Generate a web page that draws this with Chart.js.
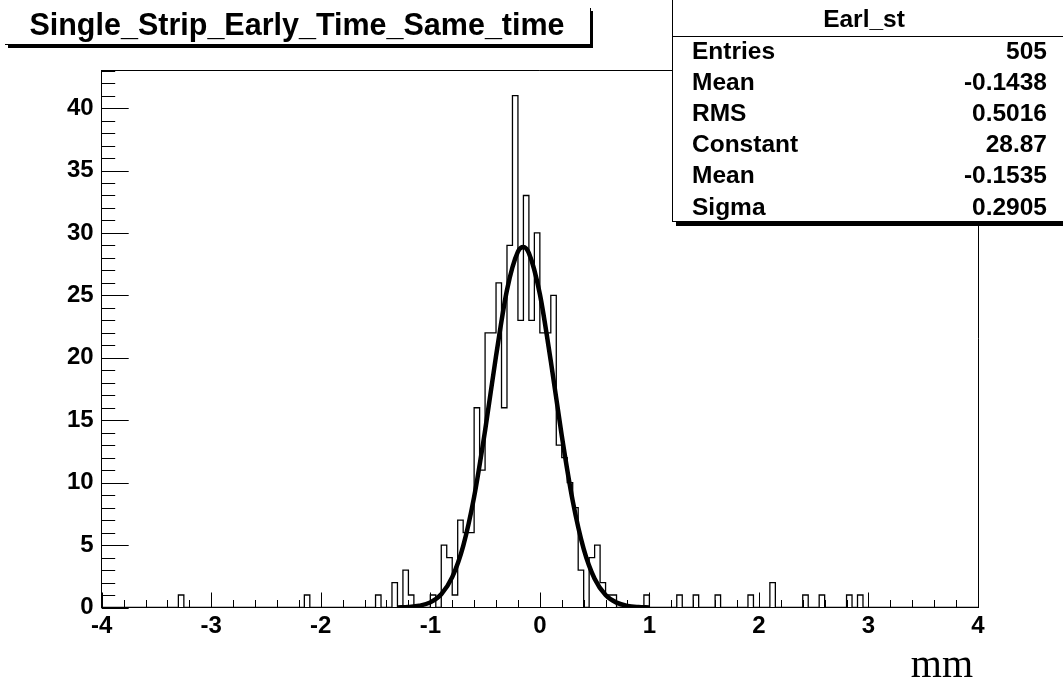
<!DOCTYPE html>
<html><head><meta charset="utf-8">
<script src="https://cdn.jsdelivr.net/npm/chart.js@4"></script>
<style>html,body{margin:0;padding:0;background:#fff}</style>
</head><body>
<canvas id="c" width="1063" height="680"></canvas>
<script>
const title = 'Single_Strip_Early_Time_Same_time';
const statsName = 'Earl_st';
const statsLabels = ['Entries', 'Mean', 'RMS', 'Constant', 'Mean', 'Sigma'];
const statsValues = ['505', '-0.1438', '0.5016', '28.87', '-0.1535', '0.2905'];
const axisTitle = 'mm';

const xTicks = [-4, -3, -2, -1, 0, 1, 2, 3, 4];
const yTicks = [0, 5, 10, 15, 20, 25, 30, 35, 40];

// 160 bins of 0.05 between -4 and 4; only the non-empty ones are listed (lower edge, count)
const binLow = [-3.30, -2.15, -1.50, -1.35, -1.25, -1.20, -1.00, -0.90, -0.85, -0.80,
  -0.75, -0.70, -0.65, -0.60, -0.55, -0.50, -0.45, -0.40, -0.35, -0.30,
  -0.25, -0.20, -0.15, -0.10, -0.05, 0.00, 0.05, 0.10, 0.15, 0.20,
  0.25, 0.30, 0.35, 0.45, 0.50, 0.55, 0.60, 0.65, 0.95, 1.25,
  1.40, 1.60, 1.90, 2.10, 2.40, 2.55, 2.80, 2.90];
const binCount = [1, 1, 1, 2, 3, 1, 1, 5, 4, 1,
  7, 6, 6, 16, 11, 22, 22, 26, 16, 29,
  41, 23, 33, 23, 30, 22, 22, 25, 13, 12,
  10, 8, 3, 4, 5, 2, 1, 1, 1, 1,
  1, 1, 1, 2, 1, 1, 1, 1];

// gaussian fit curve
const fitX = [-1.3, -1.2, -1.1, -1.0, -0.9, -0.8, -0.7, -0.6, -0.5, -0.4, -0.3, -0.2, -0.15,
  -0.1, 0, 0.1, 0.2, 0.3, 0.4, 0.5, 0.6, 0.7, 0.8, 0.9, 1.0];
const fitY = [0.01, 0.04, 0.14, 0.41, 1.06, 2.43, 4.92, 8.86, 14.17, 20.14, 25.43, 28.50, 28.87,
  28.38, 25.11, 19.73, 13.77, 8.54, 4.70, 2.30, 1.00, 0.39, 0.13, 0.04, 0.01];

const nBins = 160, xLo = -4, xHi = 4, bw = 0.05;
const counts = new Array(nBins).fill(0);
binLow.forEach((b, i) => { counts[Math.round((b - xLo) / bw)] = binCount[i]; });
const histPts = counts.map((c, i) => ({ x: xLo + i * bw, y: c }));
histPts.push({ x: xHi, y: counts[nBins - 1] });

const FONT = 'Liberation Sans, Arial, sans-serif';
const tickFont = { family: FONT, size: 24, weight: 'bold' };

const rootDeco = {
  id: 'rootDeco',
  afterDatasetsDraw(chart) {
    const ctx = chart.ctx, a = chart.chartArea;
    const sx = chart.scales.x, sy = chart.scales.y;
    ctx.save();
    ctx.strokeStyle = '#000';
    ctx.lineWidth = 1;
    // frame
    ctx.beginPath();
    ctx.moveTo(a.left, a.top + 0.5); ctx.lineTo(a.right, a.top + 0.5);
    ctx.moveTo(a.right + 0.5, a.top); ctx.lineTo(a.right + 0.5, a.bottom);
    ctx.stroke();
    // inside ticks, x
    ctx.beginPath();
    for (let i = 0; i <= 40; i++) {
      const v = xLo + i * 0.2;
      const px = Math.round(sx.getPixelForValue(v)) + 0.5;
      const len = (i % 5 === 0) ? 15 : 7.5;
      ctx.moveTo(px, a.bottom); ctx.lineTo(px, a.bottom - len);
    }
    // inside ticks, y
    for (let v = 0; v <= 43; v++) {
      const py = Math.round(sy.getPixelForValue(v)) + 0.5;
      const len = (v % 5 === 0) ? 27 : 13.5;
      ctx.moveTo(a.left, py); ctx.lineTo(a.left + len, py);
    }
    ctx.stroke();

    // title box
    ctx.fillStyle = '#000';
    ctx.fillRect(5, 44, 588, 1);
    ctx.fillRect(8, 45, 585, 3);
    ctx.fillRect(590, 8, 1, 37);
    ctx.fillRect(590, 11, 3, 37);
    ctx.font = 'bold 30.5px ' + FONT;
    ctx.textAlign = 'center';
    ctx.textBaseline = 'alphabetic';
    ctx.fillText(title, 297, 35);

    // stats box
    ctx.fillStyle = '#fff';
    ctx.fillRect(672, 0, 391, 222);
    ctx.fillStyle = '#000';
    ctx.fillRect(672, 0, 1, 222);
    ctx.fillRect(672, 36, 391, 1);
    ctx.fillRect(672, 221, 391, 1);
    ctx.fillRect(676, 222, 387, 4);
    ctx.font = 'bold 24.5px ' + FONT;
    ctx.textAlign = 'center';
    ctx.fillText(statsName, 864, 27);
    statsLabels.forEach((lab, i) => {
      const by = 58.5 + i * 31.2;
      ctx.textAlign = 'left';
      ctx.fillText(lab, 692, by);
      ctx.textAlign = 'right';
      ctx.fillText(statsValues[i], 1047, by);
    });

    // axis title
    ctx.font = '40px Liberation Serif, Times New Roman, serif';
    ctx.textAlign = 'right';
    ctx.fillText(axisTitle, 973, 677);
    ctx.restore();
  }
};

new Chart(document.getElementById('c'), {
  type: 'line',
  data: {
    datasets: [
      { data: histPts, stepped: 'before', borderColor: '#000', borderWidth: 1.3,
        pointRadius: 0, fill: false },
      { data: fitX.map((x, i) => ({ x, y: fitY[i] })), borderColor: '#000', borderWidth: 4.5,
        pointRadius: 0, fill: false, cubicInterpolationMode: 'monotone' }
    ]
  },
  options: {
    responsive: false,
    animation: false,
    layout: { padding: { top: 70, right: 85, left: 0, bottom: 0 } },
    plugins: { legend: { display: false }, tooltip: { enabled: false } },
    scales: {
      x: {
        type: 'linear', min: xLo, max: xHi,
        afterBuildTicks: s => { s.ticks = xTicks.map(v => ({ value: v })); },
        afterFit: s => { s.height = 72.5; },
        ticks: { font: tickFont, color: '#000', padding: 4, maxRotation: 0, autoSkip: false },
        grid: { display: false, drawTicks: false },
        border: { color: '#000', width: 1 }
      },
      y: {
        min: 0, max: 43.05,
        afterBuildTicks: s => { s.ticks = yTicks.map(v => ({ value: v })); },
        afterFit: s => { s.width = 101.7; },
        ticks: { font: tickFont, color: '#000', padding: 8, autoSkip: false },
        grid: { display: false, drawTicks: false },
        border: { color: '#000', width: 1 }
      }
    }
  },
  plugins: [rootDeco]
});
</script>
</body></html>
